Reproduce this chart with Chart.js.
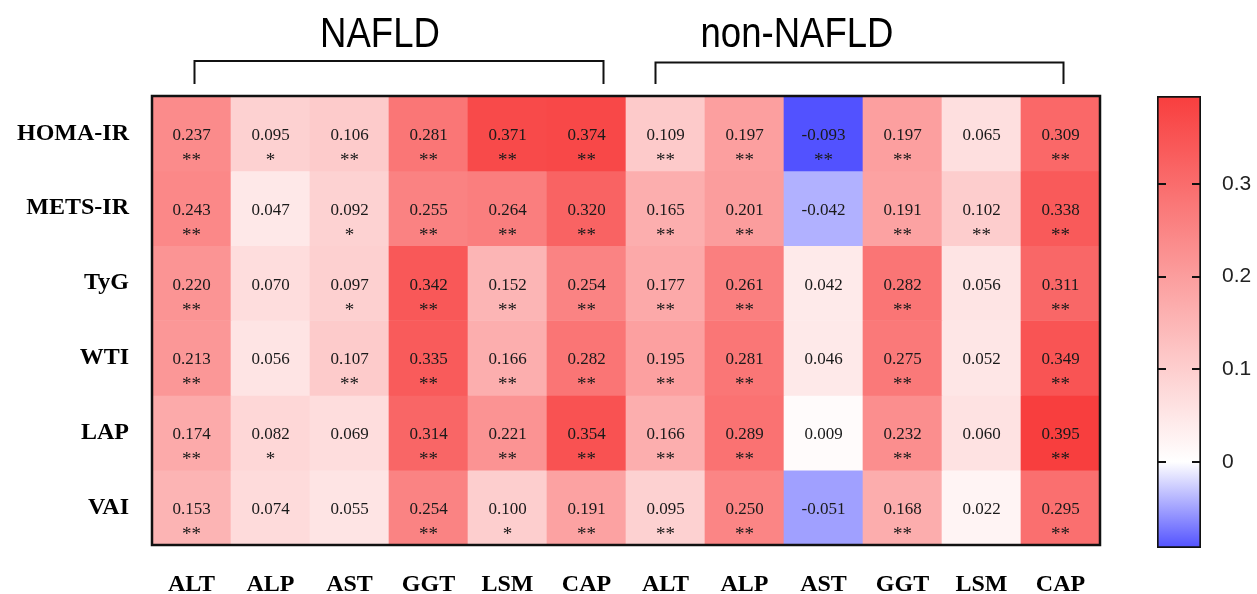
<!DOCTYPE html>
<html>
<head>
<meta charset="utf-8">
<script src="https://cdn.jsdelivr.net/npm/chart.js@4.4.1/dist/chart.umd.min.js"></script>
<style>
  html, body { margin: 0; padding: 0; background: #fff; }
  #wrap { position: relative; width: 1257px; height: 594px; }
  canvas { position: absolute; left: 0; top: 0; }
</style>
</head>
<body>
<div id="wrap">
  <canvas id="heat" width="1257" height="594"></canvas>
  <canvas id="cbar" width="1257" height="594"></canvas>
</div>
<script>
// ---------- DATA ----------
const rowNames = ['HOMA-IR', 'METS-IR', 'TyG', 'WTI', 'LAP', 'VAI'];
const colLabels = ['ALT', 'ALP', 'AST', 'GGT', 'LSM', 'CAP', 'ALT', 'ALP', 'AST', 'GGT', 'LSM', 'CAP'];
const groupNames = ['NAFLD', 'non-NAFLD'];
const groupSpans = [[0, 5], [6, 11]];

const homaIR = [0.237, 0.095, 0.106, 0.281, 0.371, 0.374, 0.109, 0.197, -0.093, 0.197, 0.065, 0.309];
const metsIR = [0.243, 0.047, 0.092, 0.255, 0.264, 0.320, 0.165, 0.201, -0.042, 0.191, 0.102, 0.338];
const tyg    = [0.220, 0.070, 0.097, 0.342, 0.152, 0.254, 0.177, 0.261, 0.042, 0.282, 0.056, 0.311];
const wti    = [0.213, 0.056, 0.107, 0.335, 0.166, 0.282, 0.195, 0.281, 0.046, 0.275, 0.052, 0.349];
const lap    = [0.174, 0.082, 0.069, 0.314, 0.221, 0.354, 0.166, 0.289, 0.009, 0.232, 0.060, 0.395];
const vai    = [0.153, 0.074, 0.055, 0.254, 0.100, 0.191, 0.095, 0.250, -0.051, 0.168, 0.022, 0.295];

const homaIRSig = ['**', '*', '**', '**', '**', '**', '**', '**', '**', '**', '', '**'];
const metsIRSig = ['**', '', '*', '**', '**', '**', '**', '**', '', '**', '**', '**'];
const tygSig    = ['**', '', '*', '**', '**', '**', '**', '**', '', '**', '', '**'];
const wtiSig    = ['**', '', '**', '**', '**', '**', '**', '**', '', '**', '', '**'];
const lapSig    = ['**', '*', '', '**', '**', '**', '**', '**', '', '**', '', '**'];
const vaiSig    = ['**', '', '', '**', '*', '**', '**', '**', '', '**', '', '**'];

const colorbarTicks = [0, 0.1, 0.2, 0.3];
const colorbarTickLabels = ['0', '0.1', '0.2', '0.3'];

const values = [homaIR, metsIR, tyg, wti, lap, vai];
const sigs = [homaIRSig, metsIRSig, tygSig, wtiSig, lapSig, vaiSig];

// ---------- COLOUR MAP ----------
const allVals = values.flat();
const vMin = Math.min(...allVals);
const vMax = Math.max(...allVals);
const RED = [248, 62, 62];
const BLUE = [82, 82, 255];
function mix(c, t) {
  return 'rgb(' + c.map(k => Math.round(255 + (k - 255) * t)).join(',') + ')';
}
function colorFor(v) {
  if (v >= 0) return mix(RED, Math.min(1, v / vMax));
  return mix(BLUE, Math.min(1, v / vMin));
}

// ---------- HEATMAP ----------
const datasets = rowNames.map((name, r) => ({
  label: name,
  data: colLabels.map(() => [r, r + 1]),
  backgroundColor: values[r].map(colorFor),
  borderWidth: 0,
  barPercentage: 1,
  categoryPercentage: 1,
  grouped: false
}));

const overlayPlugin = {
  id: 'overlay',
  afterDatasetsDraw(chart) {
    const ctx = chart.ctx;
    const area = chart.chartArea;
    const xs = chart.scales.x;
    ctx.save();
    // cell texts
    ctx.fillStyle = '#1a1a1a';
    ctx.textAlign = 'center';
    ctx.textBaseline = 'alphabetic';
    chart.data.datasets.forEach((ds, r) => {
      const meta = chart.getDatasetMeta(r);
      meta.data.forEach((el, c) => {
        const cy = (el.y + el.base) / 2;
        ctx.font = '17px "Liberation Serif", "Times New Roman", serif';
        ctx.fillText(values[r][c].toFixed(3), el.x, cy + 6.5);
        const s = sigs[r][c];
        if (s) {
          ctx.font = '19px "Liberation Serif", "Times New Roman", serif';
          ctx.fillText(s, el.x, cy + 32.5);
        }
      });
    });
    // frame
    ctx.strokeStyle = '#111';
    ctx.lineWidth = 2.5;
    ctx.strokeRect(area.left, area.top, area.right - area.left, area.bottom - area.top);
    // brackets and group titles
    const bracketOffsets = [[3, 17], [-10, 3]];
    const titleOffsets = [188.5, 131.5];
    ctx.lineWidth = 2;
    ctx.strokeStyle = '#111';
    groupSpans.forEach((span, g) => {
      const x1 = xs.getPixelForValue(span[0]) + bracketOffsets[g][0];
      const x2 = xs.getPixelForValue(span[1]) + bracketOffsets[g][1];
      const yTop = area.top - 35 + g * 1.5;
      const yBot = area.top - 12;
      ctx.beginPath();
      ctx.moveTo(x1, yBot);
      ctx.lineTo(x1, yTop);
      ctx.lineTo(x2, yTop);
      ctx.lineTo(x2, yBot);
      ctx.stroke();
      const tx = xs.getPixelForValue(span[0]) + titleOffsets[g];
      ctx.save();
      ctx.translate(tx, 47);
      ctx.scale(0.85, 1);
      ctx.font = '43px "Liberation Sans", Arial, sans-serif';
      ctx.fillStyle = '#000';
      ctx.textAlign = 'center';
      ctx.fillText(groupNames[g], 0, 0);
      ctx.restore();
    });
    ctx.restore();
  }
};

new Chart(document.getElementById('heat'), {
  type: 'bar',
  data: { labels: colLabels, datasets },
  options: {
    responsive: false,
    animation: false,
    events: [],
    layout: { padding: { left: 0, top: 96, right: 157, bottom: 0 } },
    plugins: { legend: { display: false }, tooltip: { enabled: false } },
    scales: {
      x: {
        type: 'category',
        grid: { display: false, drawTicks: false },
        border: { display: false },
        ticks: {
          autoSkip: false, maxRotation: 0, padding: 25, color: '#000',
          font: { family: '"Liberation Serif", "Times New Roman", serif', size: 24, weight: 'bold' }
        },
        afterFit(s) { s.height = 49; }
      },
      y: {
        type: 'linear', min: 0, max: 6, reverse: true,
        grid: { display: false, drawTicks: false },
        border: { display: false },
        afterBuildTicks(s) { s.ticks = rowNames.map((_, i) => ({ value: i + 0.5 })); },
        ticks: {
          padding: 23, color: '#000',
          font: { family: '"Liberation Serif", "Times New Roman", serif', size: 24, weight: 'bold' },
          callback: (v) => rowNames[Math.floor(v)]
        },
        afterFit(s) { s.width = 152; }
      }
    }
  },
  plugins: [overlayPlugin]
});

// ---------- COLOUR BAR ----------
const cbTickPlugin = {
  id: 'cbTicks',
  afterDatasetsDraw(chart) {
    const ctx = chart.ctx;
    const a = chart.chartArea;
    const ys = chart.scales.y;
    ctx.save();
    ctx.strokeStyle = '#111';
    ctx.lineWidth = 2;
    colorbarTicks.forEach(v => {
      const y = Math.round(ys.getPixelForValue(v));
      ctx.beginPath();
      ctx.moveTo(a.left, y); ctx.lineTo(a.left + 9, y);
      ctx.moveTo(a.right - 9, y); ctx.lineTo(a.right, y);
      ctx.stroke();
    });
    ctx.restore();
  }
};

new Chart(document.getElementById('cbar'), {
  type: 'bar',
  data: {
    labels: ['scale'],
    datasets: [{
      data: [[vMin, vMax]],
      barPercentage: 1,
      categoryPercentage: 1,
      borderWidth: 2,
      borderColor: '#111',
      borderSkipped: false,
      backgroundColor(c) {
        const chart = c.chart;
        if (!chart.chartArea) return '#fff';
        const ys = chart.scales.y;
        const yb = ys.getPixelForValue(vMin), yt = ys.getPixelForValue(vMax);
        const g = chart.ctx.createLinearGradient(0, yb, 0, yt);
        const z = (0 - vMin) / (vMax - vMin);
        g.addColorStop(0, colorFor(vMin));
        g.addColorStop(z, '#ffffff');
        g.addColorStop(1, colorFor(vMax));
        return g;
      }
    }]
  },
  options: {
    responsive: false,
    animation: false,
    events: [],
    layout: { padding: { left: 1157, top: 96, right: 0, bottom: 46 } },
    plugins: { legend: { display: false }, tooltip: { enabled: false } },
    scales: {
      x: { display: false },
      y: {
        type: 'linear', position: 'right', min: vMin, max: vMax,
        grid: { display: false, drawTicks: false },
        border: { display: false },
        afterBuildTicks(s) { s.ticks = colorbarTicks.map(v => ({ value: v })); },
        ticks: {
          padding: 21, color: '#222',
          font: { family: '"Liberation Sans", Arial, sans-serif', size: 21 },
          callback: (v) => colorbarTickLabels[colorbarTicks.indexOf(v)]
        },
        afterFit(s) { s.width = 56; }
      }
    }
  },
  plugins: [cbTickPlugin]
});
</script>
</body>
</html>
